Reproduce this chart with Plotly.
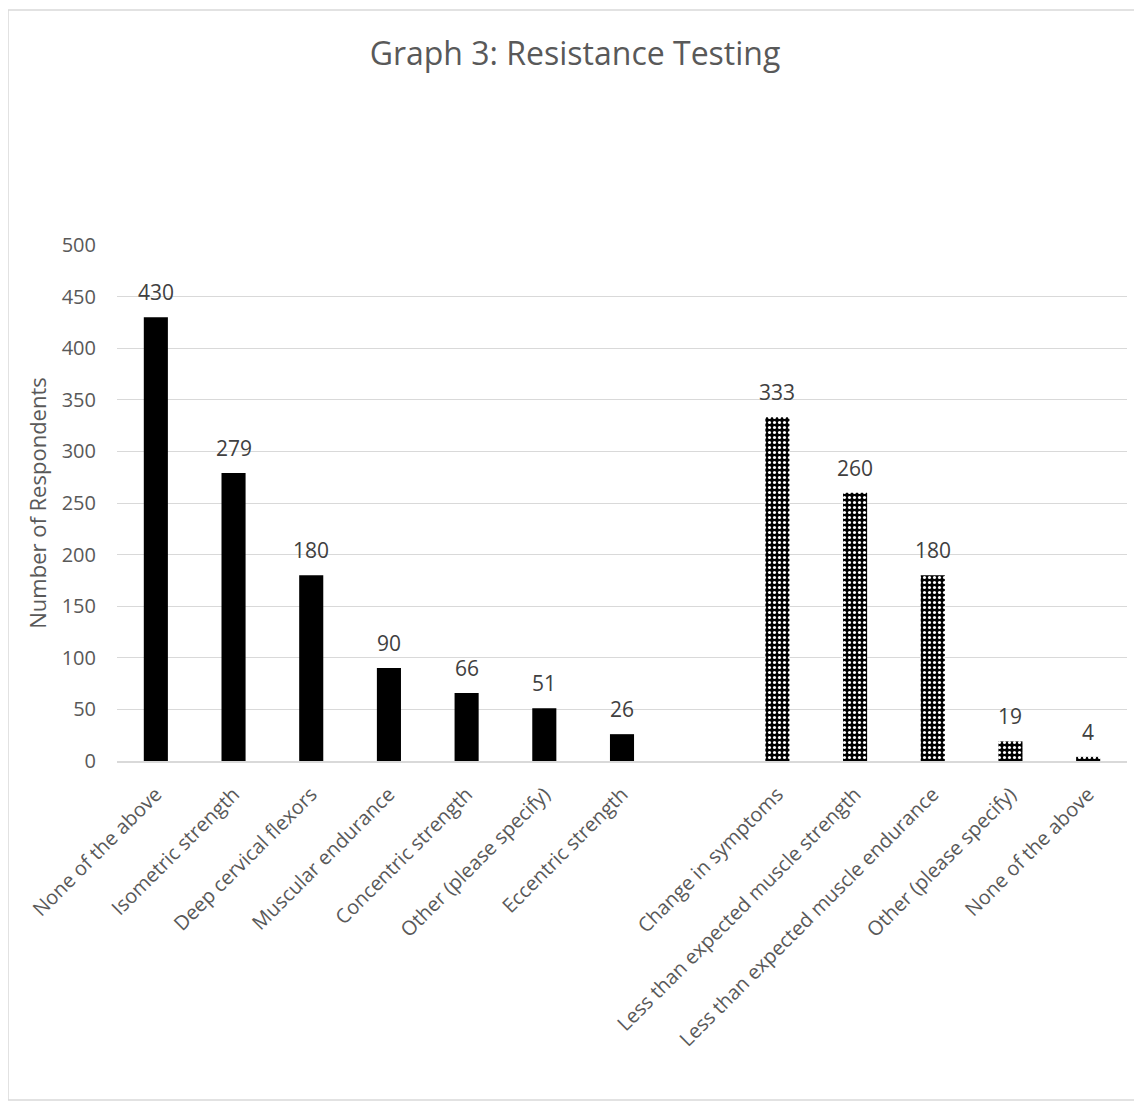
import plotly.graph_objects as go

labels1 = ["None of the above", "Isometric strength", "Deep cervical flexors",
           "Muscular endurance", "Concentric strength", "Other (please specify)",
           "Eccentric strength"]
values1 = [430, 279, 180, 90, 66, 51, 26]

labels2 = ["Change in symptoms", "Less than expected muscle strength",
           "Less than expected muscle endurance", "Other (please specify)",
           "None of the above"]
values2 = [333, 260, 180, 19, 4]

yticks = [0, 50, 100, 150, 200, 250, 300, 350, 400, 450, 500]

x1 = list(range(len(labels1)))
x2 = [len(labels1) + 1 + i for i in range(len(labels2))]

font_fam = "Open Sans, sans-serif"
gray = "#595959"
lblgray = "#404040"

# page offset (body margin) of 8px
OFF = 8
W, H = 1142 - OFF, 1102 - OFF
L, R, T, B = 117 - OFF, 15, 245 - OFF, 1102 - 761
PW = W - L - R
PH = H - T - B

fig = go.Figure()
fig.add_trace(go.Bar(
    x=x1, y=values1, width=0.31,
    marker=dict(color="black", line=dict(width=0)),
    showlegend=False, hoverinfo="x+y",
))
fig.add_trace(go.Bar(
    x=x2, y=values2, width=0.31,
    marker=dict(color="black", line=dict(width=0),
                pattern=dict(shape=".", fgcolor="white", bgcolor="black",
                             size=5, solidity=0.3, fillmode="replace")),
    showlegend=False, hoverinfo="x+y",
))

annotations = []
for xs, vs in ((x1, values1), (x2, values2)):
    for xv, v in zip(xs, vs):
        annotations.append(dict(
            x=xv, y=v, xref="x", yref="y", text=str(v), showarrow=False,
            yanchor="bottom", yshift=9,
            font=dict(size=21, color=lblgray, family=font_fam)))

fig.update_layout(
    width=W, height=H,
    paper_bgcolor="white", plot_bgcolor="white",
    margin=dict(l=L, r=R, t=T, b=B),
    barmode="overlay",
    font=dict(family=font_fam, color=gray),
    title=dict(text="Graph 3: Resistance Testing", x=0.5, xanchor="center",
               y=1 - (54 - OFF) / H, yanchor="middle",
               font=dict(size=32, color=gray, family=font_fam)),
    xaxis=dict(range=[-0.5, 12.5], tickmode="array",
               tickvals=x1 + x2, ticktext=labels1 + labels2,
               tickangle=-45, tickfont=dict(size=20, color=gray),
               ticklabelstandoff=12,
               showgrid=False, showline=True, linecolor="#d9d9d9", linewidth=1.5,
               ticks="", zeroline=False),
    yaxis=dict(range=[0, 500], tickmode="array", tickvals=yticks,
               tickfont=dict(size=20, color=gray),
               ticklabelstandoff=20,
               showgrid=True, gridcolor="#d9d9d9", gridwidth=1.3,
               zeroline=False, showline=False, ticks="",
               title=dict(text="Number of Respondents", standoff=8,
                          font=dict(size=22, color=gray))),
    annotations=annotations,
    shapes=[dict(type="rect", xref="paper", yref="paper",
                 x0=(8 - 117) / PW, x1=(1140 - 117) / PW,
                 y0=(761 - 1100) / PH, y1=(761 - 10) / PH,
                 line=dict(color="#d9d9d9", width=1.5), fillcolor="rgba(0,0,0,0)",
                 layer="below")],
)

fig.write_html("out.html")
